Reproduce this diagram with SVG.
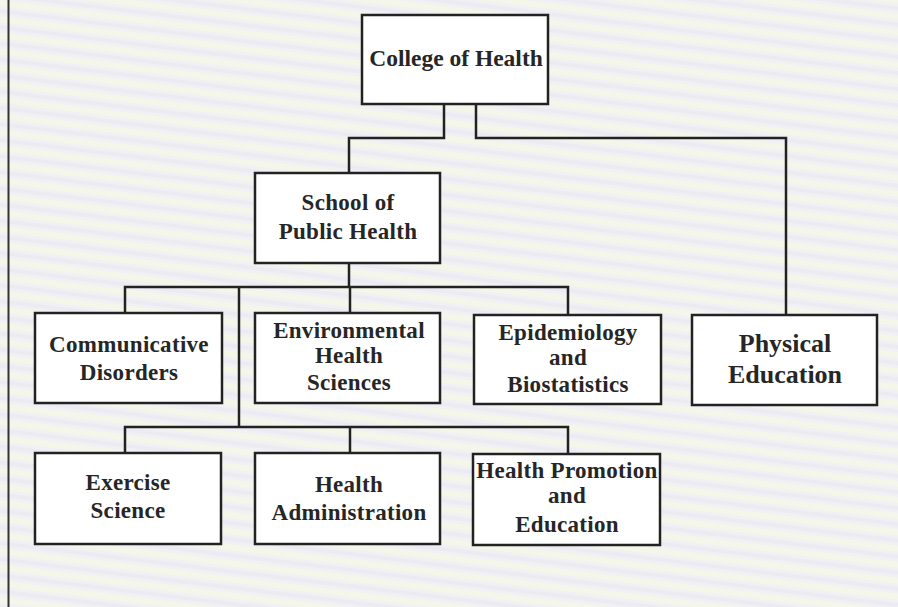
<svg xmlns="http://www.w3.org/2000/svg" width="898" height="607" viewBox="0 0 898 607">
  <defs>
    <pattern id="stripes" width="898" height="16" patternUnits="userSpaceOnUse" patternTransform="rotate(7)">
      <rect x="0" y="0" width="898" height="16" fill="#f1f0f4"/>
      <rect x="0" y="0" width="898" height="6" fill="#f4f6e9"/>
      <rect x="0" y="9" width="898" height="4" fill="#ecebf2"/>
    </pattern>
  </defs>
  <style>
    .box { fill: #ffffff; stroke: #222222; stroke-width: 2.5; }
    .conn { fill: none; stroke: #222222; stroke-width: 2.5; stroke-linejoin: miter; }
    text { font-family: "Liberation Serif", "Times New Roman", serif; font-weight: bold; fill: #262626; text-anchor: middle; }
    .t { font-size: 23px; letter-spacing: 0.3px; }
    .big { font-size: 23.5px; }
    .pe { font-size: 26px; }
  </style>

  <rect x="0" y="0" width="898" height="607" fill="url(#stripes)"/>
  <line x1="8.5" y1="0" x2="8.5" y2="607" stroke="#333333" stroke-width="2"/>

  <g id="connectors">
    <polyline class="conn" points="444,104 444,138 349,138 349,173"/>
    <polyline class="conn" points="476,104 476,138 786,138 786,315"/>
    <line class="conn" x1="349" y1="263" x2="349" y2="287"/>
    <polyline class="conn" points="125,313 125,287 568,287 568,315"/>
    <line class="conn" x1="350" y1="287" x2="350" y2="313"/>
    <line class="conn" x1="239" y1="287" x2="239" y2="427"/>
    <polyline class="conn" points="125,453 125,427 568,427 568,454"/>
    <line class="conn" x1="350" y1="427" x2="350" y2="453"/>
  </g>

  <g id="college-of-health">
    <rect class="box" x="362" y="15" width="186" height="89"/>
    <text class="big" x="456" y="66">College of Health</text>
  </g>

  <g id="school-of-public-health">
    <rect class="box" x="255" y="173" width="185" height="90"/>
    <text class="t" x="348" y="210">School of</text>
    <text class="t" x="348" y="239">Public Health</text>
  </g>

  <g id="communicative-disorders">
    <rect class="box" x="35" y="313" width="187" height="90"/>
    <text class="t" x="129" y="352">Communicative</text>
    <text class="t" x="129" y="380">Disorders</text>
  </g>

  <g id="environmental-health-sciences">
    <rect class="box" x="255" y="313" width="185" height="90"/>
    <text class="t" x="349" y="338">Environmental</text>
    <text class="t" x="349" y="363">Health</text>
    <text class="t" x="349" y="390">Sciences</text>
  </g>

  <g id="epidemiology-biostatistics">
    <rect class="box" x="474" y="315" width="187" height="89"/>
    <text class="t" x="568" y="340">Epidemiology</text>
    <text class="t" x="568" y="365">and</text>
    <text class="t" x="568" y="392">Biostatistics</text>
  </g>

  <g id="physical-education">
    <rect class="box" x="692" y="315" width="185" height="90"/>
    <text class="pe" x="785" y="352">Physical</text>
    <text class="pe" x="785" y="383">Education</text>
  </g>

  <g id="exercise-science">
    <rect class="box" x="35" y="453" width="186" height="91"/>
    <text class="t" x="128" y="490">Exercise</text>
    <text class="t" x="128" y="518">Science</text>
  </g>

  <g id="health-administration">
    <rect class="box" x="255" y="453" width="185" height="91"/>
    <text class="t" x="349" y="492">Health</text>
    <text class="t" x="349" y="520">Administration</text>
  </g>

  <g id="health-promotion-education">
    <rect class="box" x="473" y="454" width="187" height="91"/>
    <text class="t" x="567" y="478">Health Promotion</text>
    <text class="t" x="567" y="503">and</text>
    <text class="t" x="567" y="532">Education</text>
  </g>
</svg>
